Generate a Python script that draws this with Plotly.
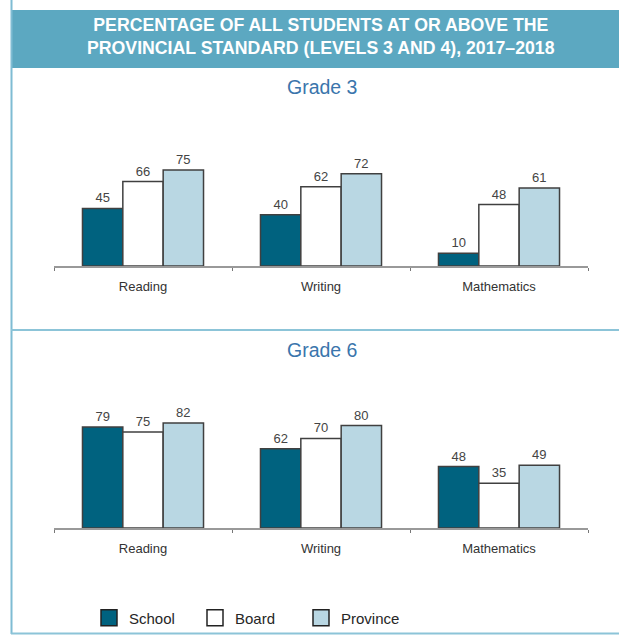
import plotly.graph_objects as go

W, H = 619, 635

subjects = ["Reading", "Writing", "Mathematics"]
series_names = ["School", "Board", "Province"]
grade3_school = [45, 40, 10]
grade3_board = [66, 62, 48]
grade3_province = [75, 72, 61]
grade6_school = [79, 62, 48]
grade6_board = [75, 70, 35]
grade6_province = [82, 80, 49]

colors = {"School": "#00627F", "Board": "#FFFFFF", "Province": "#B9D7E3"}
outline = "#404040"
FONT = "Liberation Sans, Arial, sans-serif"


def py(p):
    return 1 - p / H


def px(p):
    return p / W


fig = go.Figure()

grades = [
    ("x", "y", [grade3_school, grade3_board, grade3_province]),
    ("x2", "y2", [grade6_school, grade6_board, grade6_province]),
]
for xa, ya, vals in grades:
    for name, v in zip(series_names, vals):
        fig.add_trace(go.Bar(
            x=subjects, y=v, name=name, xaxis=xa, yaxis=ya,
            marker=dict(color=colors[name], line=dict(color=outline, width=1.5)),
            text=v, textposition="outside", cliponaxis=False, constraintext="none",
            textfont=dict(size=13, color="#444444", family=FONT),
            showlegend=False, hoverinfo="skip",
        ))

# legend entries
for name in series_names:
    fig.add_trace(go.Scatter(
        x=[None], y=[None], mode="markers", name=name,
        marker=dict(symbol="square", size=16, color=colors[name],
                    line=dict(color="#222222", width=1.5)),
        xaxis="x", yaxis="y", showlegend=True,
    ))

xaxis_common = dict(
    domain=[px(54), px(588)], range=[-0.5, 2.5], type="category",
    showline=True, linecolor="#999999", linewidth=2,
    ticks="outside", tickson="boundaries", ticklen=3, tickcolor="#777777",
    tickfont=dict(size=13, color="#333333", family=FONT),
    ticklabelstandoff=7, showgrid=False, zeroline=False, fixedrange=True,
)
yaxis_common = dict(range=[0, 100], visible=False, showgrid=False, fixedrange=True)

fig.update_layout(
    width=W, height=H,
    margin=dict(l=0, r=0, t=0, b=0),
    paper_bgcolor="white", plot_bgcolor="rgba(0,0,0,0)",
    barmode="group", bargap=0.32, bargroupgap=0,
    xaxis=dict(anchor="y", **xaxis_common),
    xaxis2=dict(anchor="y2", **xaxis_common),
    yaxis=dict(domain=[py(266), py(138)], anchor="x", **yaxis_common),
    yaxis2=dict(domain=[py(528), py(400)], anchor="x2", **yaxis_common),
    legend=dict(orientation="h", x=px(89), y=py(618), xanchor="left", yanchor="middle",
                font=dict(size=15, color="#262626", family=FONT),
                itemwidth=30, entrywidth=61, tracegroupgap=0, bgcolor="rgba(0,0,0,0)"),
    showlegend=True,
)

shapes = [
    # header band
    dict(type="rect", xref="paper", yref="paper", x0=px(12), x1=1, y0=py(68), y1=py(10),
         fillcolor="#5CA8C1", line=dict(width=0), layer="below"),
    # left border
    dict(type="line", xref="paper", yref="paper", x0=px(11.5), x1=px(11.5), y0=py(634), y1=1,
         line=dict(color="#7FBCD3", width=2)),
    # separator
    dict(type="line", xref="paper", yref="paper", x0=px(11), x1=1, y0=py(330), y1=py(330),
         line=dict(color="#8CC4D8", width=2)),
    # bottom border
    dict(type="line", xref="paper", yref="paper", x0=px(11), x1=1, y0=py(633.5), y1=py(633.5),
         line=dict(color="#8CC4D8", width=2)),
]
fig.update_layout(shapes=shapes)

annotations = [
    dict(text="<b>PERCENTAGE OF ALL STUDENTS AT OR ABOVE THE<br>PROVINCIAL STANDARD (LEVELS 3 AND 4), 2017–2018</b>",
         xref="paper", yref="paper", x=px(321), y=py(37), xanchor="center", yanchor="middle",
         showarrow=False, font=dict(size=17.7, color="white", family=FONT), align="center"),
    dict(text="Grade 3", xref="paper", yref="paper", x=px(322), y=py(87),
         xanchor="center", yanchor="middle", showarrow=False,
         font=dict(size=19.5, color="#3A75AC", family=FONT)),
    dict(text="Grade 6", xref="paper", yref="paper", x=px(322), y=py(350),
         xanchor="center", yanchor="middle", showarrow=False,
         font=dict(size=19.5, color="#3A75AC", family=FONT)),
]
fig.update_layout(annotations=annotations)

fig.write_html("out.html", config={"displayModeBar": False, "staticPlot": True},
               post_script="document.body.style.margin='0';document.body.style.padding='0';")
